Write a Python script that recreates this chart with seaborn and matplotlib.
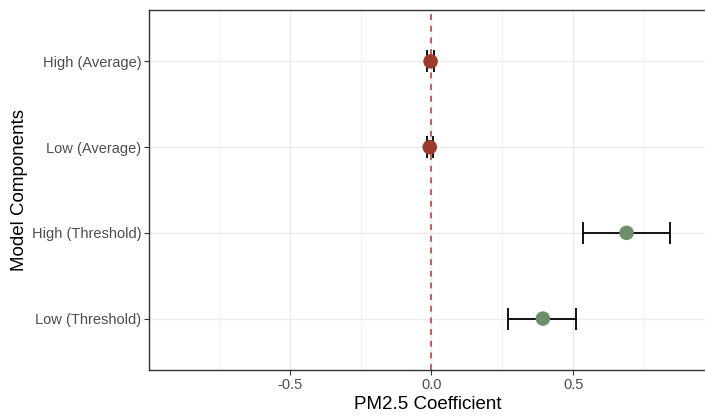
import matplotlib
matplotlib.use("Agg")
import matplotlib.pyplot as plt
import seaborn as sns
import pandas as pd
from matplotlib.ticker import MultipleLocator, FuncFormatter

components = ["High (Average)", "Low (Average)", "High (Threshold)", "Low (Threshold)"]
estimate = [-0.003, -0.006, 0.688, 0.393]
ci_low = [-0.015, -0.017, 0.535, 0.270]
ci_high = [0.010, 0.007, 0.840, 0.510]
model_type = ["Average", "Average", "Threshold", "Threshold"]

df = pd.DataFrame({"component": components, "estimate": estimate,
                   "lo": ci_low, "hi": ci_high, "type": model_type})

sns.set_style("white")
plt.rcParams["font.family"] = ["Liberation Sans", "DejaVu Sans"]

fig = plt.figure(figsize=(7.05, 4.16), dpi=100)
ax = fig.add_axes([0.2113, 0.1106, 0.7917, 0.8654])

palette = {"Average": "#9E3A2C", "Threshold": "#6E8F6C"}

# whiskers first, points on top
ax.errorbar(df["estimate"], df["component"],
            xerr=[df["estimate"] - df["lo"], df["hi"] - df["estimate"]],
            fmt="none", ecolor="black", elinewidth=1.3, capsize=8, capthick=1.3, zorder=2)
sns.scatterplot(data=df, x="estimate", y="component", hue="type", palette=palette,
                s=110, edgecolor="none", legend=False, ax=ax, zorder=3)
ax.axvline(0, color="#B5473F", ls=(0, (3.5, 3.5)), lw=1.2, zorder=1)

ax.set_xlim(-0.996, 0.972)
ax.set_ylim(3.6, -0.6)
ax.xaxis.set_major_locator(MultipleLocator(0.5))
ax.xaxis.set_minor_locator(MultipleLocator(0.25))
ax.xaxis.set_major_formatter(FuncFormatter(lambda v, p: f"{v:.1f}"))

ax.grid(which="major", color="#EBEBEB", lw=1.0)
ax.grid(which="minor", axis="x", color="#F1F1F1", lw=0.7)
ax.set_axisbelow(True)

for s in ax.spines.values():
    s.set_color("#333333")
    s.set_linewidth(1.0)

ax.tick_params(axis="both", which="major", length=3.5, width=0.8, color="#333333",
               labelsize=10.5, labelcolor="#4D4D4D", left=True, bottom=True, pad=2)
ax.tick_params(axis="x", which="minor", length=0)

ax.set_xlabel("PM2.5 Coefficient", fontsize=13.5, color="black", labelpad=3)
ax.set_ylabel("Model Components", fontsize=13.5, color="black", labelpad=3)

fig.savefig("out.png", dpi=100)
